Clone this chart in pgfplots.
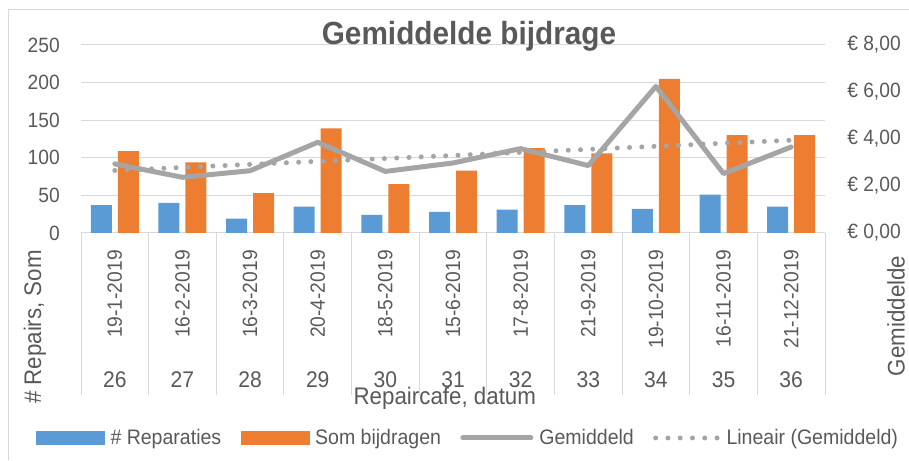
\documentclass[border=0pt]{standalone}
\usepackage{pgfplots}
\pgfplotsset{compat=1.18}
\usepackage{fontspec}
\setmainfont{Liberation Sans}[FakeStretch=0.93]
\definecolor{barblue}{HTML}{5B9BD5}
\definecolor{barorange}{HTML}{ED7D31}
\definecolor{linegray}{HTML}{A5A5A5}
\definecolor{gridgray}{HTML}{D9D9D9}
\definecolor{textgray}{HTML}{595959}
\newcommand{\fs}[1]{\fontsize{#1}{#1}\selectfont}
\pgfplotstableread{
x rep som
1 37 109
2 40 94
3 19 53
4 35 139
5 24 65
6 28 83
7 31 113
8 37 106
9 32 205
10 51 130
11 35 130
}\bars
\pgfplotstableread{
x gem trend
1 2.94 2.66
2 2.37 2.79
3 2.65 2.92
4 3.86 3.05
5 2.62 3.17
6 2.98 3.30
7 3.59 3.43
8 2.87 3.56
9 6.24 3.69
10 2.53 3.82
11 3.66 3.95
}\lines
\pgfplotsset{
  bluelegend/.style={legend image code/.code={\fill[barblue] (0pt,-4.9pt) rectangle (51pt,4.9pt);}},
  orangelegend/.style={legend image code/.code={\fill[barorange] (0pt,-4.9pt) rectangle (51pt,4.9pt);}},
  linelegend/.style={legend image code/.code={\draw[linegray, line width=3.75pt] (0pt,0pt) -- (51pt,0pt);}},
  dotlegend/.style={legend image code/.code={\draw[linegray, line width=3.75pt, line cap=round, dash pattern=on 0pt off 9.2pt] (2pt,0pt) -- (48.75pt,0pt);}},
}
\begin{document}
\begin{tikzpicture}
\useasboundingbox (0,0) rectangle (681.75pt,345pt);
\draw[gridgray, line width=0.75pt] (6pt,0pt) -- (6pt,337.5pt) -- (681.75pt,337.5pt);
\begin{axis}[
  at={(60.75pt,170.25pt)}, anchor=south west,
  scale only axis, width=558pt, height=141pt,
  xmin=0.5, xmax=11.5, ymin=0, ymax=250,
  ytick={0,50,...,250},
  ymajorgrids, grid style={gridgray, line width=0.75pt},
  axis lines*=left, separate axis lines,
  x axis line style={gridgray, line width=0.75pt, -},
  y axis line style={draw=none},
  tick align=outside,
  major tick length=0pt,
  xtick={1,...,11},
  xticklabels={19-1-2019,16-2-2019,16-3-2019,20-4-2019,18-5-2019,15-6-2019,17-8-2019,21-9-2019,19-10-2019,16-11-2019,21-12-2019},
  xticklabel style={rotate=90, anchor=east, inner sep=0pt, font=\fs{15.5}, text=textgray},
  xticklabel shift=12.75pt,
  yticklabel style={anchor=east, inner sep=0pt, xshift=-15.75pt, font=\fs{15.5}, text=textgray},
  extra x ticks={0.5,1.5,...,11.5},
  extra x tick labels={},
  extra x tick style={major tick length=121.5pt, tick align=outside, tick style={draw=gridgray, line width=0.75pt}},
  /pgf/number format/assume math mode=true,
  ybar=4.5pt, bar width=15.75pt,
  ylabel={\# Repairs, Som},
  ylabel style={at={(rel axis cs:-0.0618,-0.5)}, anchor=center, font=\fs{18}, text=textgray},
  xlabel={Repaircafe, datum},
  xlabel style={at={(rel axis cs:0.489,-0.878)}, anchor=center, font=\fs{18}, text=textgray},
  clip=false,
]
\addplot[fill=barblue, draw=none] table[x=x, y=rep] {\bars};
\addplot[fill=barorange, draw=none] table[x=x, y=som] {\bars};
\pgfplotsinvokeforeach{1,...,11}{
  \node[font=\fs{17}, text=textgray, anchor=center] at (axis cs:#1,0) [yshift=-110.25pt] {\the\numexpr#1+25\relax};
}
\end{axis}
\begin{axis}[
  at={(60.75pt,170.25pt)}, anchor=south west,
  scale only axis, width=558pt, height=141pt,
  xmin=0.5, xmax=11.5, ymin=0, ymax=8,
  axis y line*=right, axis x line=none,
  y axis line style={draw=none},
  major tick length=0pt,
  ytick={0,2,4,6,8},
  yticklabels={{€ 0,00},{€ 2,00},{€ 4,00},{€ 6,00},{€ 8,00}},
  yticklabel style={anchor=west, inner sep=0pt, xshift=16.5pt, font=\fs{15.5}, text=textgray},
  ylabel={Gemiddelde},
  ylabel style={at={(rel axis cs:1.0954,-0.441)}, anchor=center, font=\fs{18}, text=textgray},
  clip=false,
  legend columns=4,
  legend cell align=left,
  legend style={at={(rel axis cs:-0.0605,-1.0904)}, anchor=west, draw=none, fill=none,
    inner sep=0pt, outer sep=0pt, font=\fs{15.75}, text=textgray,
    nodes={inner sep=0pt},
    /tikz/every odd column/.append style={column sep=4.5pt},
    /tikz/every even column/.append style={column sep=14.5pt}},
]
\addlegendimage{bluelegend}
\addlegendentry{\# Reparaties}
\addlegendimage{orangelegend}
\addlegendentry{Som bijdragen}
\addplot[linegray, line width=3.75pt, line join=round, line cap=round, linelegend] table[x=x, y=gem] {\lines};
\addlegendentry{Gemiddeld}
\addplot[linegray, line width=3.75pt, line cap=round, dash pattern=on 0pt off 9.2pt, dotlegend] table[x=x, y=trend] {\lines};
\addlegendentry{Lineair (Gemiddeld)}
\end{axis}
\node[font=\bfseries\fs{24}, text=textgray, anchor=base] at (351.75pt,311.25pt) {Gemiddelde bijdrage};
\end{tikzpicture}
\end{document}
